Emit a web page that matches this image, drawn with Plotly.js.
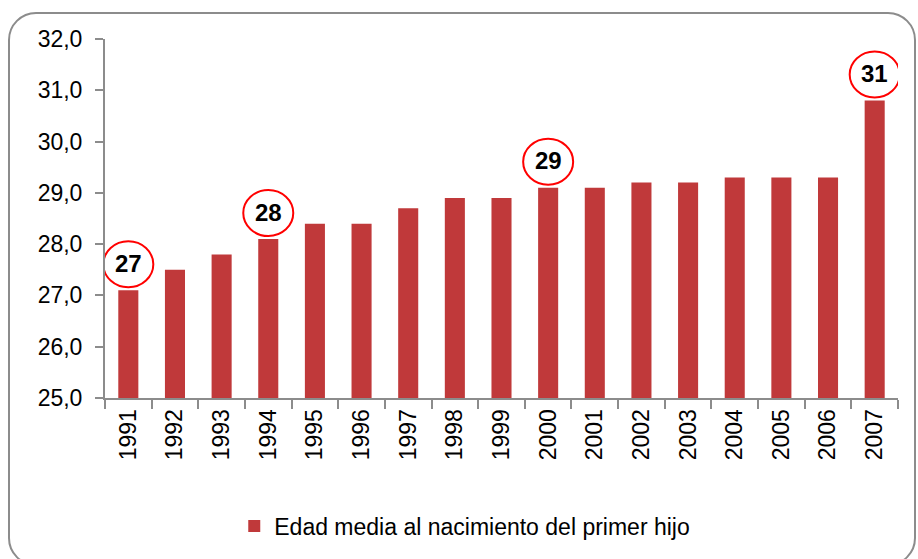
<!DOCTYPE html>
<html>
<head>
<meta charset="utf-8">
<script src="https://cdn.plot.ly/plotly-3.0.1.min.js"></script>
<style>
html,body{margin:0;padding:0;background:#fff;}
#wrap{position:relative;width:918px;height:559px;overflow:hidden;}
#frame{position:absolute;left:8px;top:12px;width:904px;height:550px;border:2px solid #8c8c8c;border-radius:28px;pointer-events:none;}
#chart{position:absolute;left:0;top:0;width:918px;height:559px;}
</style>
</head>
<body>
<div id="wrap">
<div id="frame"></div>
<div id="chart"></div>
</div>
<script>
const years = ['1991','1992','1993','1994','1995','1996','1997','1998','1999','2000','2001','2002','2003','2004','2005','2006','2007'];
const edadMedia = [27.1,27.5,27.8,28.1,28.4,28.4,28.7,28.9,28.9,29.1,29.1,29.2,29.2,29.3,29.3,29.3,30.8];
const seriesName = 'Edad media al nacimiento del primer hijo';
const highlightYears = ['1991','1994','2000','2007'];
const highlightLabels = ['27','28','29','31'];
const yTicks = [25,26,27,28,29,30,31,32];

const font = 'Liberation Sans, Arial, sans-serif';

const trace = {
  type: 'bar',
  x: years,
  y: edadMedia,
  name: seriesName,
  marker: {color: '#c0393a'},
  hoverinfo: 'x+y'
};

const shapes = [];
const annotations = [];
highlightYears.forEach((yr, i) => {
  const idx = years.indexOf(yr);
  const v = edadMedia[idx];
  shapes.push({
    type: 'circle', xref: 'x', yref: 'y',
    xsizemode: 'pixel', ysizemode: 'pixel',
    xanchor: idx, yanchor: v,
    x0: -25, x1: 25, y0: 3, y1: 49,
    line: {color: '#ff0000', width: 2},
    fillcolor: 'rgba(255,255,255,0)'
  });
  annotations.push({
    x: idx, y: v, xref: 'x', yref: 'y',
    text: '<b>' + highlightLabels[i] + '</b>',
    showarrow: false, yshift: 27,
    font: {family: font, size: 24, color: '#000'}
  });
});

const layout = {
  width: 918, height: 559,
  margin: {l: 105, r: 20, t: 39, b: 161},
  paper_bgcolor: 'rgba(0,0,0,0)',
  plot_bgcolor: 'rgba(0,0,0,0)',
  separators: ',.',
  bargap: 0.57,
  showlegend: true,
  font: {family: font, size: 23, color: '#000'},
  xaxis: {
    type: 'category',
    range: [-0.5, years.length - 0.5],
    autorange: false,
    tickangle: -90,
    ticks: 'outside', tickson: 'boundaries', ticklen: 9, tickwidth: 2, tickcolor: '#8c8c8c',
    showline: true, linecolor: '#8c8c8c', linewidth: 2,
    showgrid: false, zeroline: false,
    tickfont: {family: font, size: 23, color: '#000'}
  },
  yaxis: {
    range: [25, 32],
    autorange: false,
    tickvals: yTicks,
    tickformat: '.1f',
    ticks: 'outside', ticklen: 8, tickwidth: 2, tickcolor: '#8c8c8c',
    showline: true, linecolor: '#8c8c8c', linewidth: 2,
    showgrid: false, zeroline: false,
    ticklabelstandoff: 8,
    tickfont: {family: font, size: 23, color: '#000'}
  },
  legend: {
    orientation: 'h', x: 0.163, xanchor: 'left', y: -0.357, yanchor: 'middle',
    font: {family: font, size: 23, color: '#000'},
    itemwidth: 30
  },
  shapes: shapes,
  annotations: annotations
};

Plotly.newPlot('chart', [trace], layout, {displayModeBar: false, staticPlot: true});
</script>
</body>
</html>
